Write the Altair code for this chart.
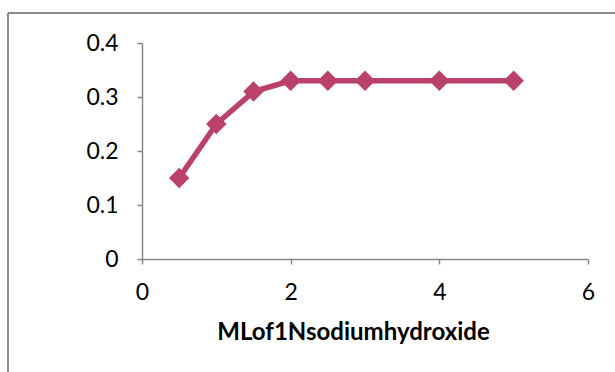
import altair as alt
import pandas as pd

ml_naoh = [0.5, 1, 1.5, 2, 2.5, 3, 4, 5]
values = [0.15, 0.25, 0.31, 0.33, 0.33, 0.33, 0.33, 0.33]
x_ticks = [0, 2, 4, 6]
y_ticks = [0, 0.1, 0.2, 0.3, 0.4]

df = pd.DataFrame({"x": ml_naoh, "y": values})
color = "#BB416D"
axis_color = "#868686"

x_enc = alt.X("x:Q", scale=alt.Scale(domain=[0, 6], nice=False),
              axis=alt.Axis(values=x_ticks, title="MLof1Nsodiumhydroxide", grid=False,
                            format="d", labelFlush=False,
                            domainColor=axis_color, tickColor=axis_color, tickSize=5,
                            labelFontSize=23, labelPadding=17, labelColor="#000",
                            labelFont="Lato", titleFont="Lato", titleFontSize=24,
                            titleFontWeight="bold", titleColor="#000", titlePadding=16,
                            titleX=211, titleAlign="center",
                            domainWidth=1.5, tickWidth=1.5))
y_enc = alt.Y("y:Q", scale=alt.Scale(domain=[0, 0.4], nice=False),
              axis=alt.Axis(values=y_ticks, title=None, grid=False, labelFlush=False,
                            domainColor=axis_color, tickColor=axis_color, tickSize=5,
                            labelFontSize=23, labelPadding=19, labelColor="#000",
                            labelFont="Lato", domainWidth=1.5, tickWidth=1.5,
                            labelExpr="datum.value == 0 ? '0' : format(datum.value, '.1f')"))

line = alt.Chart(df).mark_line(color=color, strokeWidth=5.5).encode(x=x_enc, y=y_enc)
pts = alt.Chart(df).mark_point(shape="diamond", filled=True, color=color, size=420, opacity=1).encode(x="x:Q", y="y:Q")

border_v = alt.Chart(df).mark_rule(color="#8c8c8c", strokeWidth=1.5).encode(
    x=alt.value(-134), y=alt.value(-30), y2=alt.value(400))
border_h = alt.Chart(df).mark_rule(color="#8c8c8c", strokeWidth=1.5).encode(
    x=alt.value(-134), x2=alt.value(700), y=alt.value(-30))

chart = alt.layer(border_v, border_h, line, pts).properties(
    width=446, height=216,
    padding={"left": 142, "top": 43, "right": 27, "bottom": 113},
    autosize=alt.AutoSizeParams(type="none"),
).configure_view(stroke=None)

chart.save("out.html", embed_options={"renderer": "svg", "actions": False})
